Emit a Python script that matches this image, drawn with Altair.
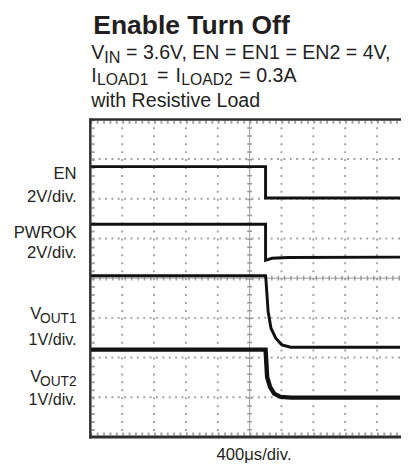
import altair as alt
import pandas as pd

# ---- trace data (x in divisions of 400us, y in screen divisions, 0 = bottom) ----
EN_T = [0, 5.5, 5.5, 9.72]
EN_V = [6.81, 6.81, 6.02, 6.02]
PWROK_T = [0, 5.5, 5.5, 5.7, 6.2, 9.72]
PWROK_V = [5.36, 5.36, 4.45, 4.50, 4.52, 4.53]
VOUT1_T = [0, 5.5, 5.51, 5.58, 5.67, 5.82, 6.01, 6.29, 9.72]
VOUT1_V = [4.06, 4.06, 3.98, 3.16, 2.74, 2.49, 2.32, 2.26, 2.26]
VOUT2_T = [0, 5.5, 5.55, 5.64, 5.77, 5.97, 6.3, 9.72]
VOUT2_V = [2.20, 2.20, 1.51, 1.26, 1.09, 1.01, 0.99, 0.99]

X_GRID = [1, 2, 3, 4, 6, 7, 8, 9]
Y_GRID = [1, 2, 3, 5, 6, 7]

FONT = "Liberation Sans"
W, H = 316, 324
XDOM = [0, 9.72]
YDOM = [0, 8]
GRID_C = "#a3a3a3"


def trace_df(name, t, v):
    return pd.DataFrame({"t": t, "v": v, "s": name, "i": range(len(t))})


thin = pd.concat([
    trace_df("EN", EN_T, EN_V),
    trace_df("PWROK", PWROK_T, PWROK_V),
    trace_df("VOUT1", VOUT1_T, VOUT1_V),
])
thick = trace_df("VOUT2", VOUT2_T, VOUT2_V)

xs = alt.Scale(domain=XDOM, nice=False, zero=False)
ys = alt.Scale(domain=YDOM, nice=False, zero=False)
noax = alt.Axis(grid=False, labels=False, ticks=False, domain=False, title=None)

one = pd.DataFrame({"a": [0]})

# invisible base layer carrying the (hidden) axes
base = alt.Chart(one).mark_point(opacity=0).encode(
    x=alt.X("gx:Q", scale=xs, axis=noax), y=alt.Y("gy:Q", scale=ys, axis=noax)
).transform_calculate(gx="0", gy="0")

# dotted grid
vgrid = alt.Chart(pd.DataFrame({"gxv": X_GRID})).mark_rule(
    color=GRID_C, strokeWidth=2, strokeDash=[2, 6.1]
).encode(x=alt.X("gxv:Q", scale=xs))
hgrid = alt.Chart(pd.DataFrame({"gyv": Y_GRID})).mark_rule(
    color=GRID_C, strokeWidth=2, strokeDash=[2, 4.5]
).encode(y=alt.Y("gyv:Q", scale=ys))

# center cross lines with minor ticks
cxr = alt.Chart(one).mark_rule(color="#999999", strokeWidth=1).encode(x=alt.datum(5, scale=xs))
cxt = alt.Chart(one).mark_rule(color="#999999", strokeWidth=5, strokeDash=[1.5, 6.6]).encode(
    x=alt.datum(5, scale=xs))
cyr = alt.Chart(one).mark_rule(color="#999999", strokeWidth=1).encode(y=alt.datum(4, scale=ys))
cyt = alt.Chart(one).mark_rule(color="#999999", strokeWidth=5, strokeDash=[1.5, 5.0]).encode(
    y=alt.datum(4, scale=ys))

# edge ticks
top_t = alt.Chart(one).mark_rule(color=GRID_C, strokeWidth=3, strokeDash=[2, 4.5]).encode(
    x=alt.value(0), x2=alt.value(W), y=alt.value(3))
bot_t = alt.Chart(one).mark_rule(color=GRID_C, strokeWidth=3, strokeDash=[2, 4.5]).encode(
    x=alt.value(0), x2=alt.value(W), y=alt.value(H - 3))
left_t = alt.Chart(one).mark_rule(color=GRID_C, strokeWidth=3, strokeDash=[2, 6.1]).encode(
    x=alt.value(3), y=alt.value(0), y2=alt.value(H))

lines_thin = alt.Chart(thin).mark_line(color="#111111", strokeWidth=3).encode(
    x=alt.X("t:Q", scale=xs), y=alt.Y("v:Q", scale=ys), detail="s:N", order="i:Q")
lines_thick = alt.Chart(thick).mark_line(color="#111111", strokeWidth=4.5).encode(
    x=alt.X("t:Q", scale=xs), y=alt.Y("v:Q", scale=ys), order="i:Q")

# frame
fc = "#2e2e2e"
f_left = alt.Chart(one).mark_rule(color=fc, strokeWidth=2.5).encode(
    x=alt.value(0), y=alt.value(-1), y2=alt.value(H + 1.5))
f_top = alt.Chart(one).mark_rule(color=fc, strokeWidth=2.5).encode(
    x=alt.value(-1), x2=alt.value(W + 10), y=alt.value(0))
f_bot = alt.Chart(one).mark_rule(color=fc, strokeWidth=3).encode(
    x=alt.value(-1), x2=alt.value(W + 10), y=alt.value(H))


def txt(s, x, y, size, bold=False, align="left"):
    return alt.Chart(one).mark_text(
        text=s, font=FONT, fontSize=size, fontWeight="bold" if bold else "normal",
        align=align, baseline="alphabetic", color="#231f20"
    ).encode(x=alt.value(x), y=alt.value(y))


texts = [
    txt("Enable Turn Off", 3, -87, 27, bold=True),
    txt("V", 1, -62, 20), txt("IN", 14.3, -58, 16.5), txt("= 3.6V, EN = EN1 = EN2 = 4V,", 36.4, -62, 20),
    txt("I", 1, -38.5, 20), txt("LOAD1", 6.8, -35, 16), txt("=", 68, -38.5, 20),
    txt("I", 87, -38.5, 20), txt("LOAD2", 92.8, -35, 16), txt("= 0.3A", 152, -38.5, 20),
    txt("with Resistive Load", 1, -13, 20),
    txt("EN", -14, 61, 17, align="right"), txt("2V/div.", -14, 84, 17, align="right"),
    txt("PWROK", -14, 121, 17, align="right"), txt("2V/div.", -14, 141, 17, align="right"),
    txt("V", -50, 204, 17, align="right"), txt("OUT1", -14, 208, 14, align="right"),
    txt("1V/div.", -14, 230, 16.5, align="right"),
    txt("V", -50, 268, 17, align="right"), txt("OUT2", -14, 272, 14, align="right"),
    txt("1V/div.", -14, 291, 16.5, align="right"),
    txt("400μs/div.", 167, 348, 17, align="center"),
]

chart = alt.layer(
    base, vgrid, hgrid, cxr, cxt, cyr, cyt, top_t, bot_t, left_t,
    lines_thin, lines_thick, f_left, f_top, f_bot, *texts
).properties(
    width=W, height=H,
    autosize=alt.AutoSizeParams(type="none"),
    padding={"left": 84, "top": 109, "right": 1, "bottom": 26},
).configure_view(stroke=None)

chart.save("out.html", embed_options={"renderer": "svg", "actions": False})
